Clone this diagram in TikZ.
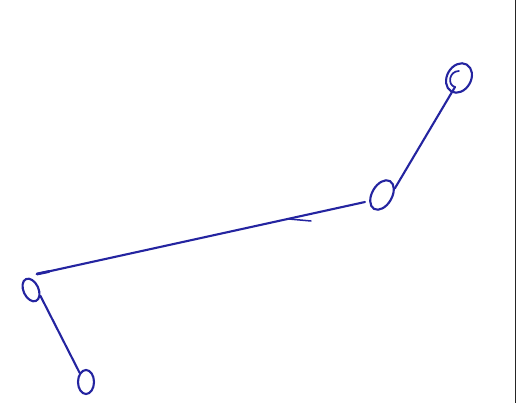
\documentclass[tikz,border=0pt]{standalone}
\usetikzlibrary{shapes.geometric}
\definecolor{pen}{RGB}{36,36,160}
\begin{document}
\begin{tikzpicture}[x=1pt,y=-1pt,
  penline/.style={draw=pen,line width=2.1pt,line cap=round},
  loopnode/.style={ellipse,draw=pen,line width=2.1pt,inner sep=0pt}]
\useasboundingbox (0,0) rectangle (519,403);
\fill[white] (0,0) rectangle (519,403);
% right border
\draw[black!85,line width=1.1pt] (515.5,0) -- (515.5,403);
% nodes
\node[loopnode,minimum width=24pt,minimum height=31pt,rotate=-30] (n1) at (459,78) {};
\node[loopnode,minimum width=20pt,minimum height=32pt,rotate=-30] (n2) at (382,195) {};
\node[loopnode,minimum width=15pt,minimum height=24pt,rotate=25] (n3) at (31,290) {};
\node[loopnode,minimum width=16pt,minimum height=24pt,rotate=0] (n4) at (86,382) {};
% inner loop of top node
\draw[penline,line width=1.7pt] (459,71) .. controls (449,71) and (447,85) .. (455,87);
% free ends of the long stroke
\coordinate (c2) at (365,202);
\coordinate (c3) at (37,274);
\coordinate (t1) at (289,219);
\coordinate (t2) at (311,221);
% connectors
\draw[penline] (455,87) -- (n2.north east);
\draw[penline] (c2) -- (c3);
\draw[penline,line width=2.8pt] (c3) -- ++(12,-2.5);
\draw[penline,line width=1.5pt] (t1) -- (t2);
\draw[penline] (n3.south east) -- (n4.north west);
\end{tikzpicture}
\end{document}
